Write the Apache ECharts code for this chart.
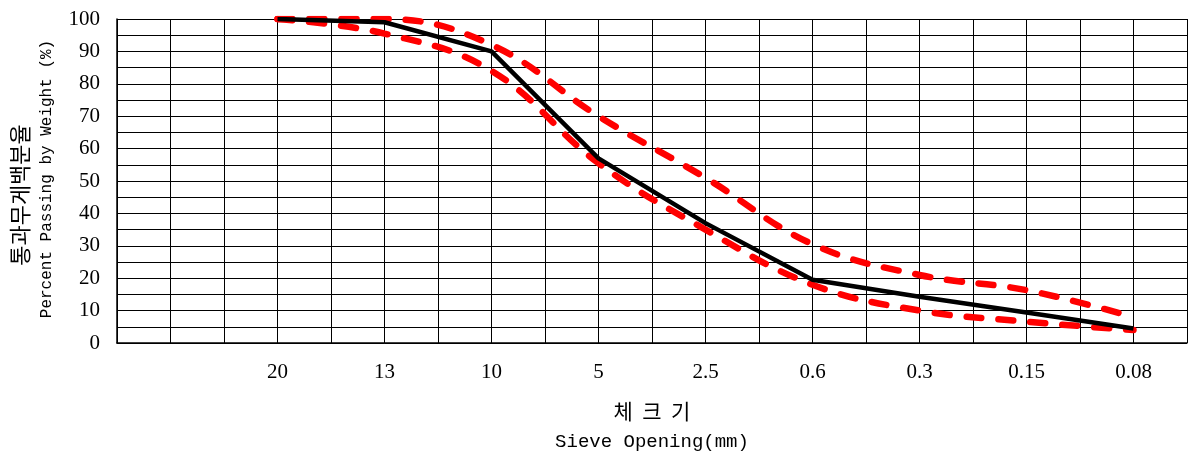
<!DOCTYPE html>
<html>
<head>
<meta charset="utf-8">
<script src="https://cdn.jsdelivr.net/npm/echarts@6/dist/echarts.min.js"></script>
<style>
html,body{margin:0;padding:0;background:#fff;}
#chart{width:1188px;height:457px;}
</style>
</head>
<body>
<div id="chart"></div>
<script>
// Sieve sizes (first slot is an empty spacer category)
const sieveLabels = ['', '20', '13', '10', '5', '2.5', '0.6', '0.3', '0.15', '0.08'];
// Measured gradation (percent passing)
const passing = [null, 100, 99, 90, 57, 37, 19.5, 14.3, 9.4, 4.5];
// Specification upper limit
const upperLimit = [null, 100, 100, 92, 70, 51, 30.5, 21, 16.3, 8];
// Specification lower limit
const lowerLimit = [null, 100, 95.5, 84, 55.5, 35, 18, 10, 6.6, 4];
// Y tick labels
const yTicks = [0, 10, 20, 30, 40, 50, 60, 70, 80, 90, 100];

const chart = echarts.init(document.getElementById('chart'));
const numFont = '"Liberation Serif", "DejaVu Serif", serif';
const monoFont = '"Liberation Mono", "DejaVu Sans Mono", monospace';
const krFont = '"Noto Sans CJK KR", sans-serif';

const option = {
  animation: false,
  backgroundColor: '#fff',
  grid: { left: 117, right: 1, top: 19, bottom: 114, containLabel: false },
  xAxis: [
    {
      type: 'category',
      data: sieveLabels,
      boundaryGap: true,
      axisLine: { show: true, lineStyle: { color: '#000', width: 1.5 } },
      axisTick: { show: false },
      splitLine: { show: false },
      axisLabel: { color: '#000', fontFamily: numFont, fontSize: 21, margin: 19 }
    },
    {
      type: 'value',
      min: 0, max: 20, interval: 1,
      position: 'bottom',
      axisLine: { show: false },
      axisTick: { show: false },
      axisLabel: { show: false },
      splitLine: { show: true, lineStyle: { color: '#000', width: 1 } }
    }
  ],
  yAxis: {
    type: 'value',
    min: 0, max: 100, interval: 5,
    axisLine: { show: true, lineStyle: { color: '#000', width: 1.5 } },
    axisTick: { show: false },
    splitLine: { show: true, lineStyle: { color: '#000', width: 1 } },
    axisLabel: {
      color: '#000', fontFamily: numFont, fontSize: 21, margin: 17,
      formatter: v => (yTicks.indexOf(v) >= 0 ? String(v) : '')
    }
  },
  graphic: [
    { type: 'text', x: 20, y: 195, rotation: Math.PI / 2,
      style: { text: '통과무게백분율', font: '22px ' + krFont, fill: '#000', textAlign: 'center', textVerticalAlign: 'middle' } },
    { type: 'text', x: 47, y: 179, rotation: Math.PI / 2,
      style: { text: 'Percent Passing by Weight (%)', font: '16px ' + monoFont, fill: '#000', textAlign: 'center', textVerticalAlign: 'middle' } },
    { type: 'text', x: 652, y: 411,
      style: { text: '체  크  기', font: '21px ' + krFont, fill: '#000', textAlign: 'center', textVerticalAlign: 'middle' } },
    { type: 'text', x: 652, y: 442,
      style: { text: 'Sieve Opening(mm)', font: '19px ' + monoFont, fill: '#000', textAlign: 'center', textVerticalAlign: 'middle' } }
  ],
  series: [
    {
      name: 'Upper', type: 'line', xAxisIndex: 0, data: upperLimit, smooth: 0.4,
      symbol: 'none', z: 3,
      lineStyle: { color: '#ff0000', width: 6.5, type: [15, 17], cap: 'round' }
    },
    {
      name: 'Lower', type: 'line', xAxisIndex: 0, data: lowerLimit, smooth: 0.4,
      symbol: 'none', z: 3,
      lineStyle: { color: '#ff0000', width: 6.5, type: [15, 17], cap: 'round' }
    },
    {
      name: 'Passing', type: 'line', xAxisIndex: 0, data: passing, smooth: false,
      symbol: 'none', z: 4,
      lineStyle: { color: '#000', width: 4.5 }
    }
  ]
};
chart.setOption(option);
</script>
</body>
</html>
